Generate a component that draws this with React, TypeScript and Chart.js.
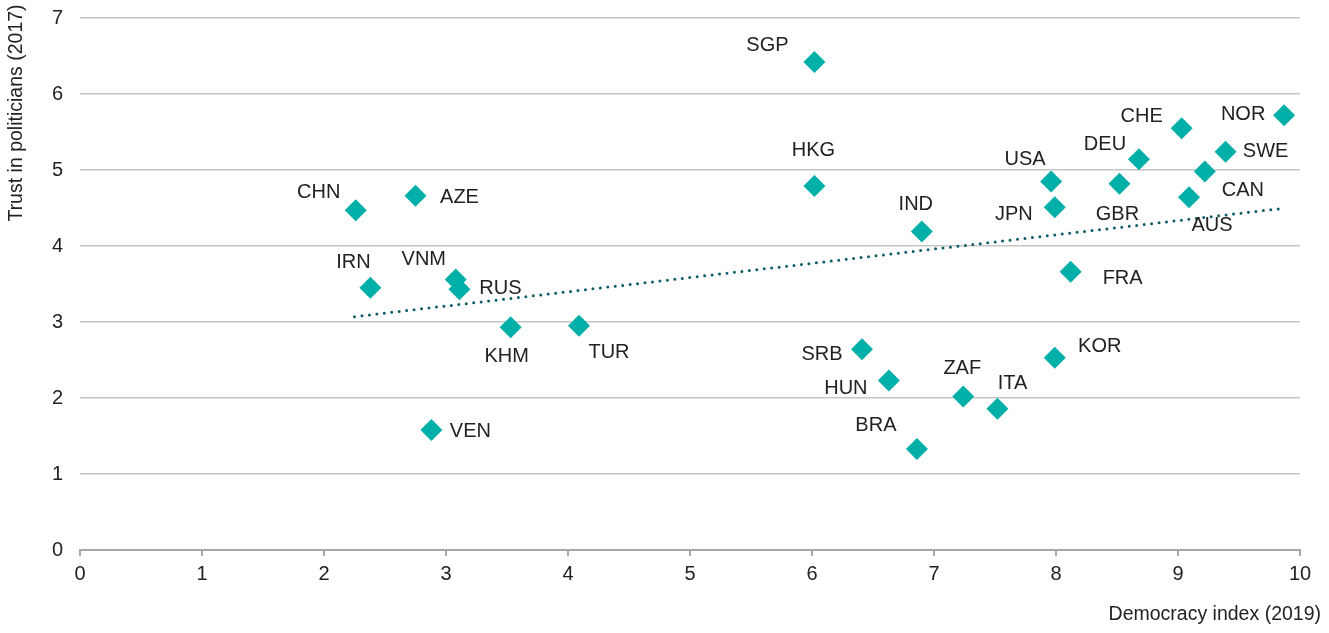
import React, { useEffect, useRef } from "react";
import { Chart, registerables } from "chart.js";

Chart.register(...registerables);

const countries = ["CHN","AZE","IRN","VNM","RUS","KHM","TUR","VEN","SGP","HKG","IND","SRB","HUN","BRA","ZAF","ITA","KOR","USA","JPN","FRA","DEU","GBR","CHE","NOR","SWE","CAN","AUS"];
const democracyIndex = [2.26,2.75,2.38,3.08,3.11,3.53,4.09,2.88,6.02,6.02,6.90,6.41,6.63,6.86,7.24,7.52,7.99,7.96,7.99,8.12,8.68,8.52,9.03,9.87,9.39,9.22,9.09];
const trustInPoliticians = [4.47,4.66,3.45,3.56,3.43,2.93,2.95,1.58,6.42,4.79,4.19,2.64,2.23,1.33,2.02,1.86,2.53,4.85,4.51,3.66,5.14,4.82,5.55,5.72,5.24,4.98,4.64];
const trendX = [2.25, 9.83];
const trendY = [3.07, 4.49];
const xTicks = [0,1,2,3,4,5,6,7,8,9,10];
const yTicks = [0,1,2,3,4,5,6,7];

// label placement (pixel offsets of label centre from marker)
const labelOffsets: Record<string, [number, number]> = {
  CHN: [-37, -18], AZE: [44, 2], IRN: [-17, -25], VNM: [-32, -20], RUS: [41, -1],
  KHM: [-4, 29], TUR: [30, 27], VEN: [39, 2], SGP: [-47, -17], HKG: [-1, -35],
  IND: [-6, -27], SRB: [-40, 5], HUN: [-43, 8], BRA: [-41, -23], ZAF: [-1, -28],
  ITA: [15, -25], KOR: [45, -11], USA: [-26, -22], JPN: [-41, 7], FRA: [52, 7],
  DEU: [-34, -15], GBR: [-2, 31], CHE: [-40, -12], NOR: [-41, -1], SWE: [40, 0],
  CAN: [38, 19], AUS: [23, 28],
};

const FONT = "'Liberation Sans', Arial, Helvetica, sans-serif";
const TEXT = "#222222";

export default function App() {
  const ref = useRef<HTMLCanvasElement>(null);
  useEffect(() => {
    document.body.style.margin = "0";
    const labelPlugin = {
      id: "labels",
      afterDatasetsDraw(chart: any) {
        const ctx = chart.ctx;
        const meta = chart.getDatasetMeta(0);
        ctx.save();
        ctx.font = `20px ${FONT}`;
        ctx.fillStyle = TEXT;
        ctx.textAlign = "center";
        ctx.textBaseline = "middle";
        meta.data.forEach((pt: any, i: number) => {
          const off = labelOffsets[countries[i]] || [0, -20];
          ctx.fillText(countries[i], pt.x + off[0], pt.y + off[1]);
        });
        ctx.restore();
      },
      afterDraw(chart: any) {
        const ctx = chart.ctx;
        ctx.save();
        ctx.font = `19.5px ${FONT}`;
        ctx.fillStyle = TEXT;
        ctx.textBaseline = "middle";
        ctx.textAlign = "right";
        ctx.fillText("Democracy index (2019)", 1321, 615);
        ctx.translate(17, 113);
        ctx.rotate(-Math.PI / 2);
        ctx.textAlign = "center";
        ctx.fillText("Trust in politicians (2017)", 0, 0);
        ctx.restore();
      },
    };
    const chart = new Chart(ref.current!, {
      type: "scatter",
      data: {
        datasets: [
          {
            data: democracyIndex.map((x, i) => ({ x, y: trustInPoliticians[i] })),
            pointStyle: "rectRot",
            pointRadius: 11,
            pointHoverRadius: 11,
            backgroundColor: "#00B0A8",
            borderColor: "#00B0A8",
            borderWidth: 0,
            order: 2,
          },
          {
            type: "line",
            data: trendX.map((x, i) => ({ x, y: trendY[i] })),
            borderColor: "#0D5E66",
            borderWidth: 3,
            borderDash: [0, 7.5],
            borderCapStyle: "round",
            pointRadius: 0,
            fill: false,
            order: 1,
          } as any,
        ],
      },
      options: {
        animation: false,
        responsive: false,
        maintainAspectRatio: false,
        events: [],
        layout: { autoPadding: false, padding: { top: 18, right: 29, left: 0, bottom: 0 } },
        plugins: { legend: { display: false }, tooltip: { enabled: false } },
        scales: {
          x: {
            type: "linear",
            min: 0,
            max: 10,
            afterBuildTicks: (s: any) => { s.ticks = xTicks.map((v) => ({ value: v })); },
            afterFit: (s: any) => { s.height = 83; s.paddingLeft = 0; s.paddingRight = 0; },
            grid: { drawOnChartArea: false, drawTicks: true, tickLength: 6, color: "#a8a8a8", lineWidth: 2 },
            border: { display: true, color: "#a8a8a8", width: 2 },
            ticks: { color: TEXT, font: { family: FONT, size: 20 }, padding: 6 },
          },
          y: {
            type: "linear",
            min: 0,
            max: 7,
            afterBuildTicks: (s: any) => { s.ticks = yTicks.map((v) => ({ value: v })); },
            afterFit: (s: any) => { s.width = 80; s.paddingTop = 0; s.paddingBottom = 0; },
            grid: { drawTicks: false, color: "#c6c6c6", lineWidth: 1.5 },
            border: { display: false },
            ticks: { color: TEXT, font: { family: FONT, size: 20 }, padding: 17 },
          },
        },
      },
      plugins: [labelPlugin],
    } as any);
    return () => chart.destroy();
  }, []);
  return <canvas ref={ref} width={1329} height={633} style={{ display: "block" }} />;
}
